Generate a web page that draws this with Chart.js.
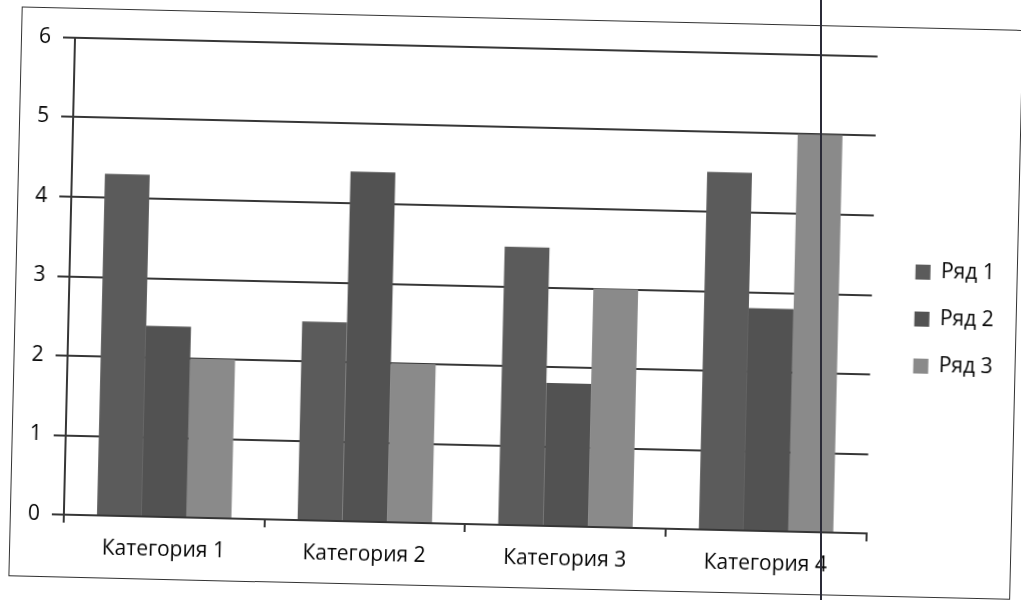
<!DOCTYPE html>
<html lang="ru">
<head>
  <meta charset="utf-8">
  <title>Ряд 1 / Ряд 2 / Ряд 3</title>
  <script src="https://cdn.jsdelivr.net/npm/chart.js"></script>
  <style>
    body { margin: 0; background: #fff; width: 1021px; height: 600px; overflow: hidden; position: relative; }
    /* the scanned sheet is a little tilted */
    #frame { position: absolute; left: 15px; top: 18px; width: 1000px; height: 568px;
             border: 1px solid #333; transform-origin: 495px 282px; transform: rotate(1.34deg); }
    #scanline { position: absolute; left: 820px; top: 0; width: 2px; height: 600px; background: #2b2b38; }
  </style>
</head>

<body>
  <div id="frame">
    <canvas id="myChart" width="1000" height="568"></canvas>
  </div>
  <div id="scanline"></div>

  <script>
    const categories = ['Категория 1', 'Категория 2', 'Категория 3', 'Категория 4'];
    const row1 = [4.3, 2.5, 3.5, 4.5];
    const row2 = [2.4, 4.4, 1.8, 2.8];
    const row3 = [2, 2, 3, 5];
    const yTicks = [0, 1, 2, 3, 4, 5, 6];

    const font = { family: 'Open Sans', size: 21 };
    const lineColor = '#363636';
    const textColor = '#050505';

    // blank spacer axis, only takes room in the layout
    function spacer(position, size) {
      return {
        type: 'linear',
        position: position,
        grid: { display: false },
        ticks: { display: false },
        border: { display: false },
        afterFit: s => {
          if (position === 'top') s.height = size; else s.width = size;
        }
      };
    }

    const ctx = document.getElementById('myChart');
    const myChart = new Chart(ctx, {
      type: 'bar',
      data: {
        labels: categories,
        datasets: [
          { label: 'Ряд 1', data: row1, backgroundColor: '#5b5b5b' },
          { label: 'Ряд 2', data: row2, backgroundColor: '#525252' },
          { label: 'Ряд 3', data: row3, backgroundColor: '#8a8a8a' }
        ]
      },
      options: {
        responsive: false,
        animation: false,
        categoryPercentage: 0.67,
        barPercentage: 1.0,
        layout: { padding: { top: 13, bottom: 0, left: 0, right: 12 } },
        plugins: {
          tooltip: { enabled: false },
          legend: {
            position: 'right',
            labels: {
              font: font,
              color: textColor,
              boxWidth: 15,
              boxHeight: 15,
              padding: 26
            }
          }
        },
        scales: {
          x: {
            afterFit: s => { s.height = 62; },
            grid: { drawOnChartArea: false, tickLength: 8, color: lineColor, lineWidth: 2 },
            border: { color: lineColor, width: 2 },
            ticks: { font: font, color: textColor, padding: 12 }
          },
          y: {
            min: yTicks[0],
            max: yTicks[yTicks.length - 1],
            afterFit: s => { s.width = 53; },
            afterBuildTicks: s => { s.ticks = yTicks.map(v => ({ value: v })); },
            grid: { color: lineColor, lineWidth: 2, tickLength: 12 },
            border: { color: lineColor, width: 2 },
            ticks: { font: font, color: textColor, padding: 12 }
          },
          topGap: Object.assign(spacer('top', 16), { axis: 'x' }),
          rightGap: spacer('right', 17)
        }
      }
    });
  </script>
</body>

</html>
